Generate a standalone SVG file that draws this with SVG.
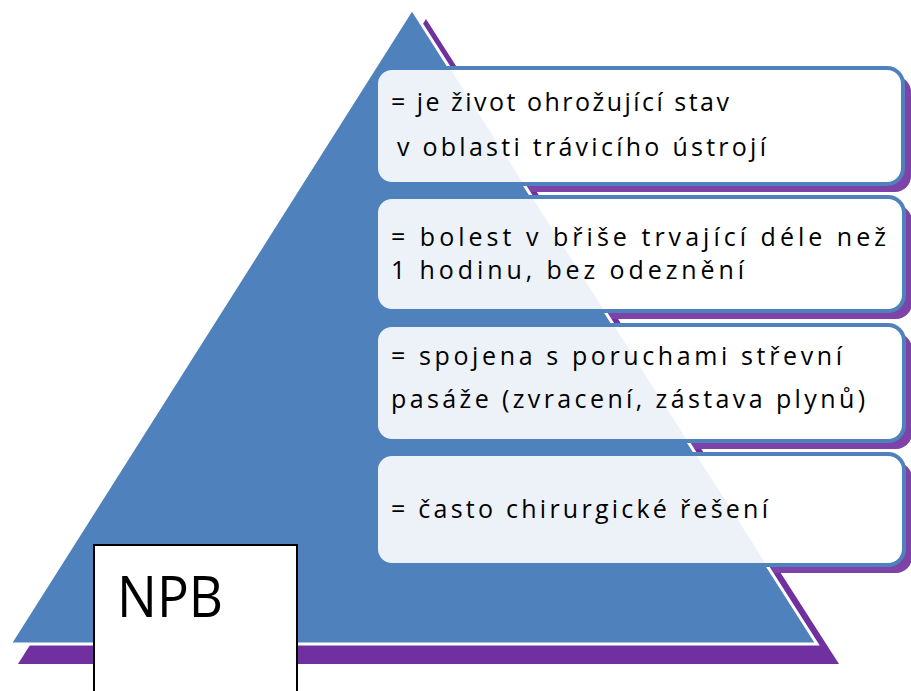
<svg xmlns="http://www.w3.org/2000/svg" width="911" height="691" viewBox="0 0 911 691">
  <style>
    .shadow { fill: #7E43A8; }
    .box { fill: #FFFFFF; stroke: none; }
    .boxline { fill: none; stroke: #4F81BD; stroke-width: 4; }
    .tint { fill: #4F81BD; fill-opacity: 0.1; }
    .t { font-family: "Open Sans", "Noto Sans", "Liberation Sans", sans-serif; font-size: 25px; fill: #000000; }
    .big { font-family: "Open Sans", "Noto Sans", "Liberation Sans", sans-serif; font-size: 56px; fill: #000000; }
  </style>
  <defs>
    <clipPath id="c1"><rect x="376" y="68" width="527" height="116" rx="16"/></clipPath>
    <clipPath id="c2"><rect x="376" y="197" width="528" height="114" rx="16"/></clipPath>
    <clipPath id="c3"><rect x="376" y="325" width="528" height="116" rx="16"/></clipPath>
    <clipPath id="c4"><rect x="376" y="454" width="528" height="111" rx="16"/></clipPath>
  </defs>
  <rect x="0" y="0" width="911" height="691" fill="#FFFFFF"/>

  <g id="pyramid">
    <polygon points="426,19 18,664 839,664" fill="#7030A0"/>
    <g id="box-shadows">
      <rect class="shadow" x="384" y="76" width="527" height="116" rx="16"/>
      <rect class="shadow" x="384" y="205" width="528" height="114" rx="16"/>
      <rect class="shadow" x="384" y="333" width="528" height="116" rx="16"/>
      <rect class="shadow" x="384" y="462" width="528" height="111" rx="16"/>
    </g>
    <polygon points="412,9 10,644 817,644" fill="#4F81BD" stroke="#FFFFFF" stroke-width="3"/>
  </g>

  <g id="connectors"></g>

  <g id="box1">
    <rect class="box" x="376" y="68" width="527" height="116" rx="16"/>
    <polygon class="tint" points="412,9 10,644 817,644" clip-path="url(#c1)"/>
    <rect class="boxline" x="376" y="68" width="527" height="116" rx="16"/>
    <text class="t" x="391" y="111" textLength="338" lengthAdjust="spacing">= je život ohrožující stav</text>
    <text class="t" x="397" y="156" textLength="369" lengthAdjust="spacing">v oblasti trávicího ústrojí</text>
  </g>

  <g id="box2">
    <rect class="box" x="376" y="197" width="528" height="114" rx="16"/>
    <polygon class="tint" points="412,9 10,644 817,644" clip-path="url(#c2)"/>
    <rect class="boxline" x="376" y="197" width="528" height="114" rx="16"/>
    <text class="t" x="391" y="246" textLength="495" lengthAdjust="spacing">= bolest v břiše trvající déle než</text>
    <text class="t" x="391" y="279" textLength="353" lengthAdjust="spacing">1 hodinu, bez odeznění</text>
  </g>

  <g id="box3">
    <rect class="box" x="376" y="325" width="528" height="116" rx="16"/>
    <polygon class="tint" points="412,9 10,644 817,644" clip-path="url(#c3)"/>
    <rect class="boxline" x="376" y="325" width="528" height="116" rx="16"/>
    <text class="t" x="391" y="365" textLength="451" lengthAdjust="spacing">= spojena s poruchami střevní</text>
    <text class="t" x="391" y="408" textLength="474" lengthAdjust="spacing">pasáže (zvracení, zástava plynů)</text>
  </g>

  <g id="box4">
    <rect class="box" x="376" y="454" width="528" height="111" rx="16"/>
    <polygon class="tint" points="412,9 10,644 817,644" clip-path="url(#c4)"/>
    <rect class="boxline" x="376" y="454" width="528" height="111" rx="16"/>
    <text class="t" x="391" y="518" textLength="377" lengthAdjust="spacing">= často chirurgické řešení</text>
  </g>

  <g id="npb">
    <rect x="94" y="545" width="203" height="160" fill="#FFFFFF" stroke="#000000" stroke-width="2"/>
    <text class="big" x="117" y="617" textLength="106" lengthAdjust="spacingAndGlyphs">NPB</text>
  </g>
</svg>
